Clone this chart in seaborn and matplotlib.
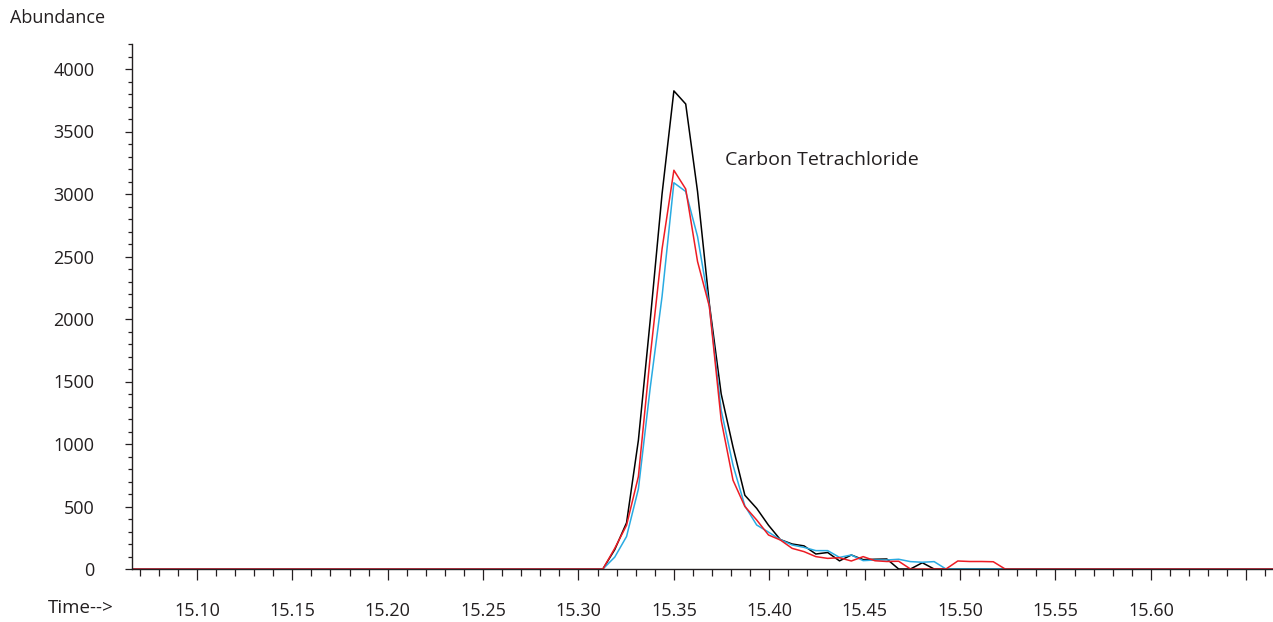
import numpy as np
import pandas as pd
import matplotlib
matplotlib.use("Agg")
import matplotlib.pyplot as plt
import seaborn as sns
from matplotlib.ticker import FixedLocator, MultipleLocator

# retention times (min) across the carbon tetrachloride peak
times = [15.3128, 15.3190, 15.3252, 15.3314, 15.3376, 15.3438, 15.3500, 15.3562,
         15.3624, 15.3686, 15.3748, 15.3810, 15.3872, 15.3934, 15.3996, 15.4058,
         15.4120, 15.4182, 15.4244, 15.4306, 15.4368, 15.4430, 15.4492, 15.4554,
         15.4616, 15.4678, 15.4740, 15.4802, 15.4864, 15.4926, 15.4988, 15.5050,
         15.5112, 15.5174, 15.5236]
# flat baseline at both ends of the window
t_start, t_end = 15.066, 15.664

black_vals = [0, 155, 370, 1030, 1990, 3000, 3825, 3720, 3020, 2120, 1400, 975,
              590, 485, 350, 235, 200, 185, 120, 132, 65, 112, 75, 78, 80, 0, 0,
              50, 0, 0, 0, 0, 0, 0, 0]
cyan_vals = [0, 95, 260, 640, 1450, 2180, 3090, 3020, 2660, 2100, 1270, 830,
             505, 352, 295, 235, 192, 173, 147, 147, 93, 112, 67, 72, 72, 78, 59,
             54, 59, 0, 0, 0, 0, 0, 0]
red_vals = [0, 165, 350, 740, 1700, 2560, 3190, 3040, 2460, 2100, 1190, 710,
            500, 392, 272, 232, 165, 139, 99, 85, 90, 64, 99, 66, 60, 62, 0, 0,
            0, 0, 64, 60, 60, 58, 0]

traces = ["black", "cyan", "red"]
colors = {"black": "#000000", "cyan": "#29abe2", "red": "#ed1c24"}

x_major = [15.10, 15.15, 15.20, 15.25, 15.30, 15.35, 15.40, 15.45, 15.50, 15.55, 15.60, 15.65]
x_labels = ["15.10", "15.15", "15.20", "15.25", "15.30", "15.35", "15.40", "15.45",
            "15.50", "15.55", "15.60", ""]
y_major = [0, 500, 1000, 1500, 2000, 2500, 3000, 3500, 4000]

rows = []
for name, vals in zip(traces, [black_vals, cyan_vals, red_vals]):
    tt = [t_start] + times + [t_end]
    vv = [0] + vals + [0]
    for t, v in zip(tt, vv):
        rows.append({"time": t, "abundance": v, "trace": name})
df = pd.DataFrame(rows)

sns.set_style("white")
plt.rcParams["font.family"] = ["Open Sans", "DejaVu Sans"]
ink = "#231f20"

fig = plt.figure(figsize=(12.73, 6.22), dpi=100)
ax = fig.add_axes([132 / 1273, 53 / 622, 1141 / 1273, 525 / 622])

sns.lineplot(data=df, x="time", y="abundance", hue="trace", hue_order=traces,
             palette=colors, estimator=None, sort=False, legend=False,
             linewidth=1.1, ax=ax)

ax.set_xlim(t_start, t_end)
ax.set_ylim(0, 4200)
ax.set_xlabel("")
ax.set_ylabel("")

for s in ["top", "right"]:
    ax.spines[s].set_visible(False)
for s in ["left", "bottom"]:
    ax.spines[s].set_color(ink)
    ax.spines[s].set_linewidth(1.0)

ax.xaxis.set_major_locator(FixedLocator(x_major))
ax.set_xticklabels(x_labels)
ax.xaxis.set_minor_locator(MultipleLocator(0.01))
ax.yaxis.set_major_locator(FixedLocator(y_major))
ax.yaxis.set_minor_locator(MultipleLocator(100))

ax.tick_params(axis="x", which="major", direction="out", length=8, width=0.9,
               color=ink, labelcolor=ink, labelsize=13, pad=16, bottom=True)
ax.tick_params(axis="x", which="minor", direction="out", length=5, width=0.9,
               color=ink, bottom=True)
ax.tick_params(axis="y", which="major", direction="out", length=5, width=0.9,
               color=ink, labelcolor=ink, labelsize=13, pad=22, left=True)
ax.tick_params(axis="y", which="minor", direction="out", length=3, width=0.9,
               color=ink, left=True)

fig.text(10 / 1273, 1 - 18 / 622, "Abundance", ha="left", va="center",
         fontsize=13, color=ink)
fig.text(48 / 1273, 1 - 608 / 622, "Time-->", ha="left", va="center",
         fontsize=13.5, color=ink)
ax.text(15.377, 3270, "Carbon Tetrachloride", ha="left", va="center",
        fontsize=14, color=ink)

fig.savefig("out.png", dpi=100)
